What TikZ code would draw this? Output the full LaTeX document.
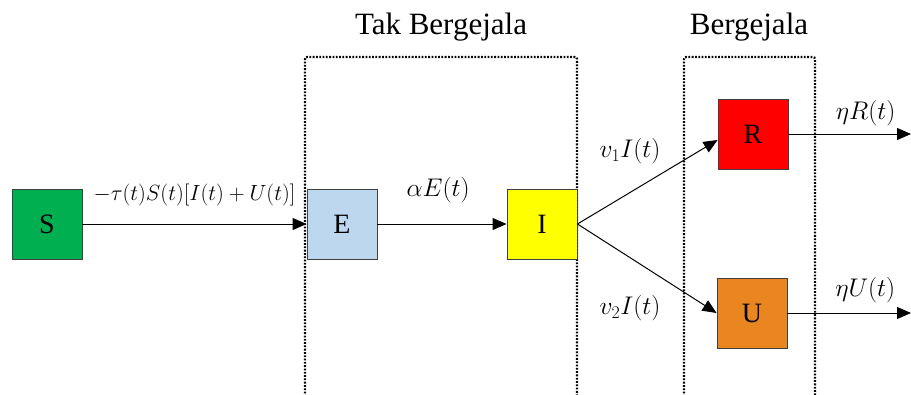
\RequirePackage{fix-cm}
\documentclass[tikz,border=0pt]{standalone}
\usepackage{fontspec}
\setmainfont{Liberation Serif}
\usetikzlibrary{arrows.meta}
\definecolor{cS}{HTML}{00B050}
\definecolor{cE}{HTML}{BDD7EE}
\definecolor{cI}{HTML}{FFFF00}
\definecolor{cR}{HTML}{FF0000}
\definecolor{cU}{HTML}{E9861F}
\tikzset{
  comp/.style={draw=black!75, line width=0.9pt, minimum width=70pt, minimum height=70pt,
    inner sep=0pt, font=\fontsize{28}{28}\selectfont},
  flow/.style={line width=1pt, -{Triangle[length=14pt,width=12pt]}},
  region/.style={line width=2.2pt, dash pattern=on 1.8pt off 1.5pt, rounded corners=2pt},
  rate/.style={font=\fontsize{25.5}{25.5}\selectfont},
  longrate/.style={font=\fontsize{22}{22}\selectfont},
  title/.style={font=\fontsize{31}{31}\selectfont}
}
\begin{document}
\begin{tikzpicture}[x=1pt,y=-1pt]
\useasboundingbox (0,0) rectangle (911,394);
% compartment groups (open at the bottom)
\draw[region] (305,400) -- (305,57) -- (577,57) -- (577,400);
\draw[region] (684,400) -- (684,57) -- (815,57) -- (815,400);
\node[title] (tak) at (441,27) {Tak Bergejala};
\node[title] (ber) at (749,27) {Bergejala};
% compartments
\node[comp, fill=cS] (S) at (47,224) {S};
\node[comp, fill=cE] (E) at (342,224) {E};
\node[comp, fill=cI] (I) at (542,224) {I};
\node[comp, fill=cR] (R) at (753,134) {R};
\node[comp, fill=cU] (U) at (752,313) {U};
\coordinate (Rout) at (911,134);
\coordinate (Uout) at (911,313);
% transitions
\draw[flow] (S) -- (E) node[longrate, midway, yshift=29pt] {$-\tau(t)S(t)[I(t)+U(t)]$};
\draw[flow] (E) -- (I) node[rate, pos=0.47, yshift=34pt] {$\alpha E(t)$};
\draw[flow] (I.east) -- ([yshift=-6pt]R.west);
\draw[flow] (I.east) -- (U.west);
\node[rate] (l1) at (630,151) {$v_1I(t)$};
\node[rate] (l2) at (630,308) {$v_2I(t)$};
\draw[flow] (R) -- (Rout) node[rate, pos=0.63, yshift=21pt] {$\eta R(t)$};
\draw[flow] (U) -- (Uout) node[rate, pos=0.63, yshift=23pt] {$\eta U(t)$};
\end{tikzpicture}
\end{document}
